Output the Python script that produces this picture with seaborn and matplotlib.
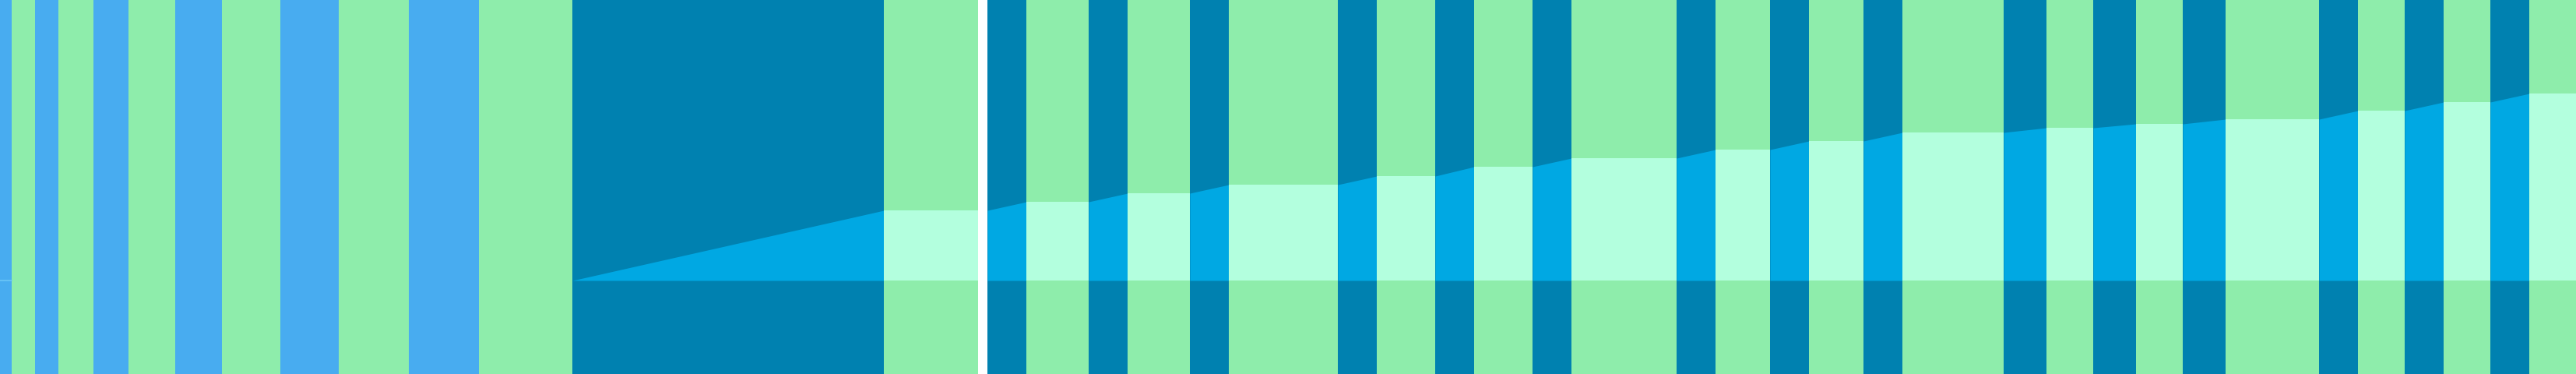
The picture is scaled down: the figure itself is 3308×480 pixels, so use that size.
import matplotlib
matplotlib.use("Agg")
import matplotlib.pyplot as plt
import seaborn as sns
import pandas as pd

# ---- data ----
# left section: alternating stripes (edges in x units)
stripe_edges = [0, 15, 45, 75, 120, 165, 225, 285, 360, 435, 525, 615, 735]
stripe_kinds = ["blue", "green", "blue", "green", "blue", "green",
                "blue", "green", "blue", "green", "blue", "green"]

# right section: step columns (green with mint level) and dark connector stripes
step_starts = [1135, 1318, 1448, 1578, 1768, 1893, 2018, 2203, 2323, 2443,
               2628, 2743, 2858, 3028, 3138, 3248]
step_ends = [1256, 1398, 1528, 1718, 1843, 1968, 2153, 2273, 2393, 2573,
             2688, 2803, 2978, 3088, 3198, 3308]
step_levels = [90, 101, 112, 123, 134, 146, 157, 168, 179, 190,
               196, 201, 207, 218, 229, 240]
link_starts = [735, 1268, 1398, 1528, 1718, 1843, 1968, 2153, 2273, 2393,
               2573, 2688, 2803, 2978, 3088, 3198]
link_ends = [1135, 1318, 1448, 1578, 1768, 1893, 2018, 2203, 2323, 2443,
             2628, 2743, 2858, 3028, 3138, 3248]
link_from = [0] + step_levels[:-1]
link_to = step_levels

y_bottom, y_top = -120, 360

colors = {
    "blue": "#48ACF0",
    "green": "#8EEDAB",
    "dark": "#0081B0",
    "light": "#00A8E3",
    "mint": "#B3FFDE",
    "line": "#6CC6F7",
}

sns.set_theme(style="white")

fig = plt.figure(figsize=(33.08, 4.8), dpi=100)
ax = fig.add_axes([0, 0, 1, 1])
ax.set_xlim(0, 3308)
ax.set_ylim(y_bottom, y_top)
ax.axis("off")

# left stripes
for i, kind in enumerate(stripe_kinds):
    x0, x1 = stripe_edges[i], stripe_edges[i + 1]
    ax.bar(x0, y_top - y_bottom, width=x1 - x0, bottom=y_bottom, align="edge",
           color=colors[kind], linewidth=0, antialiased=False)

# thin baseline mark in the first stripe
line_df = pd.DataFrame({"x": [stripe_edges[0], stripe_edges[1]], "y": [0, 0]})
sns.lineplot(data=line_df, x="x", y="y", ax=ax, color=colors["line"], linewidth=1.2)

# dark connector stripes with rising wedge
for s, e, h0, h1 in zip(link_starts, link_ends, link_from, link_to):
    ax.bar(s, y_top - y_bottom, width=e - s, bottom=y_bottom, align="edge",
           color=colors["dark"], linewidth=0, antialiased=False)
    ax.fill_between([s, e], [0, 0], [h0, h1], color=colors["light"], linewidth=0)

# green step columns with mint level
for s, e, h in zip(step_starts, step_ends, step_levels):
    ax.bar(s, y_top - y_bottom, width=e - s, bottom=y_bottom, align="edge",
           color=colors["green"], linewidth=0, antialiased=False)
    ax.bar(s, h, width=e - s, bottom=0, align="edge",
           color=colors["mint"], linewidth=0, antialiased=False)

ax.set_xlim(0, 3308)
ax.set_ylim(y_bottom, y_top)
fig.savefig("out.png", dpi=100, facecolor="white")
